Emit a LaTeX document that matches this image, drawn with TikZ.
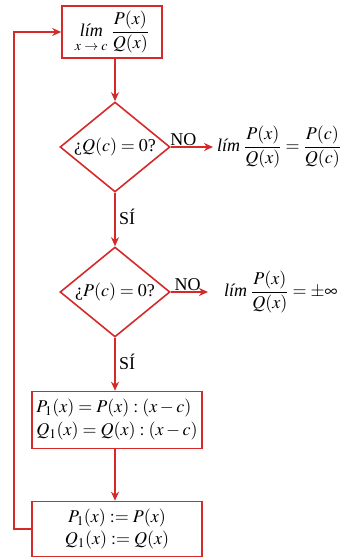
\documentclass[tikz,border=0pt]{standalone}
\usepackage{amsmath}
\usepackage{mathptmx}
\usepackage{fontspec}
\setmainfont{Liberation Serif}
\usetikzlibrary{shapes.geometric,arrows.meta}
\definecolor{flowred}{RGB}{212,42,42}

\begin{document}
\begin{tikzpicture}[x=1pt,y=1pt,
  every node/.style={font=\fontsize{18}{21}\selectfont},
  box/.style={draw=flowred,line width=1.6pt,rectangle,inner sep=2pt},
  decision/.style={draw=flowred,line width=1.6pt,diamond,aspect=1.22,inner sep=0pt,
    minimum width=110pt,minimum height=90pt},
  flow/.style={draw=flowred,line width=1.6pt,-{Stealth[length=9pt,width=8pt]}}]
\useasboundingbox (0,0) rectangle (353,558);
\node[box,minimum width=100pt,minimum height=52pt] (start) at (112,526)
  {$\mathop{\textit{lím}}\limits_{\mbox{\fontsize{14}{14}\selectfont\rule{0pt}{11pt}$x\to c$}}\,\dfrac{P(x)}{Q(x)}$};
\node[decision] (qzero) at (115,411) {¿$Q(c)=0$?};
\node[decision] (pzero) at (115,266) {¿$P(c)=0$?};
\node[box,minimum width=170pt,minimum height=57pt,align=left] (divide) at (117,138)
  {$P_1(x)=P(x):(x-c)$\\[2pt]$Q_1(x)=Q(x):(x-c)$};
\node[box,minimum width=170pt,minimum height=55pt,align=center] (rename) at (117,29)
  {$P_1(x):=P(x)$\\[1pt]$Q_1(x):=Q(x)$};
\node[anchor=west,inner sep=4pt] (limq) at (213,411)
  {$\textit{lím}\;\dfrac{P(x)}{Q(x)}=\dfrac{P(c)}{Q(c)}$};
\node[anchor=west,inner sep=0pt] (limp) at (224,266)
  {$\textit{lím}\;\dfrac{P(x)}{Q(x)}=\pm\infty$};
\coordinate (corner) at (14,29);
\coordinate (top) at (14,526);
\draw[flow] (115,500) -- (qzero.north);
\draw[flow] (qzero.east) -- node[above,pos=0.3,inner sep=1pt] {NO} (limq.west);
\draw[flow] (qzero.south) -- node[right,pos=0.45] {SÍ} (pzero.north);
\draw[flow] (pzero.east) -- node[above,pos=0.45,inner sep=1pt] {NO} ([xshift=-16pt]limp.west);
\draw[flow] (pzero.south) -- node[right,pos=0.45] {SÍ} (divide.north -| pzero.south);
\draw[flow] (divide.south -| pzero.south) -- (rename.north -| pzero.south);
\draw[flow] (rename.west) -- (corner) -- (top) -- (start.west);
\end{tikzpicture}
\end{document}
